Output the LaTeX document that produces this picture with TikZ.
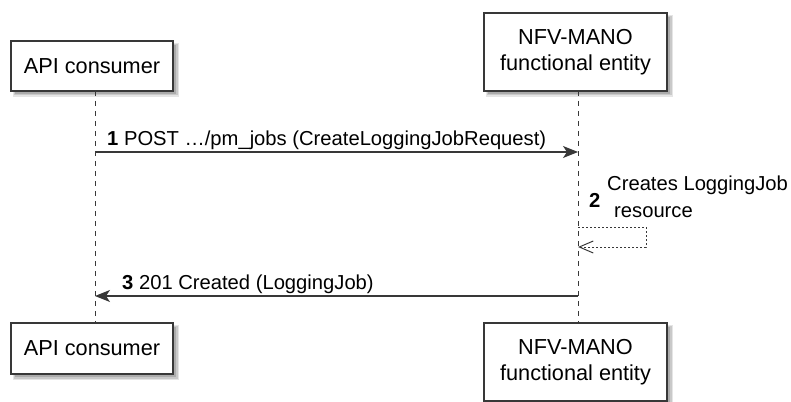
\documentclass[tikz,border=0pt]{standalone}
\usepackage{fontspec}
\setmainfont{Liberation Sans}
\usetikzlibrary{arrows.meta}
\definecolor{ln}{HTML}{383838}
\tikzset{
  x=1pt, y=-1pt,
  partbox/.style={draw=ln, line width=1.5pt, fill=white, inner sep=0pt, align=center,
    font=\fontsize{21.7}{26}\selectfont},
  lifeline/.style={draw=ln, line width=1pt, dash pattern=on 5pt off 5pt},
  msg/.style={draw=ln, line width=1.2pt, -{Stealth[length=15pt, width=12pt, inset=4pt]}},
  selfmsg/.style={draw=ln, line width=1pt, dash pattern=on 2pt off 2pt,
    -{Straight Barb[length=14pt, width=12pt, line width=1pt]}},
  lbl/.style={inner sep=0pt, anchor=base west, font=\fontsize{20.2}{24}\selectfont},
}
\newcommand{\shadowbox}[4]{%
  \fill[black, opacity=0.10] (#1+2,#2+2) rectangle (#3+6,#4+6);
  \fill[black, opacity=0.12] (#1+3,#2+3) rectangle (#3+4.5,#4+4.5);
  \fill[black, opacity=0.15] (#1+4,#2+4) rectangle (#3+3,#4+3);
}
\begin{document}
\begin{tikzpicture}
\useasboundingbox (0,0) rectangle (791,401);
\begin{scope}
\clip (0,0) rectangle (791,401);
% shadows
\shadowbox{11}{41}{173}{91}
\shadowbox{484}{13}{667}{91}
\shadowbox{11}{323}{173}{374}
\shadowbox{484}{323}{667}{412}
% boxes
\node[partbox, minimum width=162pt, minimum height=50pt] (apitop) at (92,66) {API consumer};
\node[partbox, minimum width=183pt, minimum height=78pt] (nfvtop) at (575.5,52) {NFV-MANO\\functional entity};
\node[partbox, minimum width=162pt, minimum height=51pt] (apibot) at (92,348.5) {API consumer};
\node[partbox, minimum width=183pt, minimum height=78pt] (nfvbot) at (575.5,362) {NFV-MANO\\functional entity};
\end{scope}
% lifelines
\coordinate (apiT) at (95,91);
\coordinate (apiB) at (95,323);
\coordinate (nfvT) at (578,91);
\coordinate (nfvB) at (578,323);
\draw[lifeline] (apiT) -- (apiB);
\draw[lifeline] (nfvT) -- (nfvB);
% message 1
\coordinate (m1s) at (95,152);
\coordinate (m1e) at (578,152);
\draw[msg] (m1s) -- (m1e);
\node[lbl] (l1) at (107,145) {\textbf{1} POST …/pm\_jobs (CreateLoggingJobRequest)};
% message 2 (self)
\coordinate (m2s) at (578,227);
\coordinate (m2a) at (646,227);
\coordinate (m2b) at (646,247);
\coordinate (m2e) at (578,247);
\draw[selfmsg] (m2s) -- (m2a) -- (m2b) -- (m2e);
\node[lbl] (l2n) at (589,207) {\textbf{2}};
\node[lbl] (l2a) at (607,190) {Creates LoggingJob};
\node[lbl] (l2b) at (614,217) {resource};
% message 3
\coordinate (m3s) at (578,296);
\coordinate (m3e) at (95,296);
\draw[msg] (m3s) -- (m3e);
\node[lbl] (l3) at (122,289) {\textbf{3} 201 Created (LoggingJob)};
\end{tikzpicture}
\end{document}
